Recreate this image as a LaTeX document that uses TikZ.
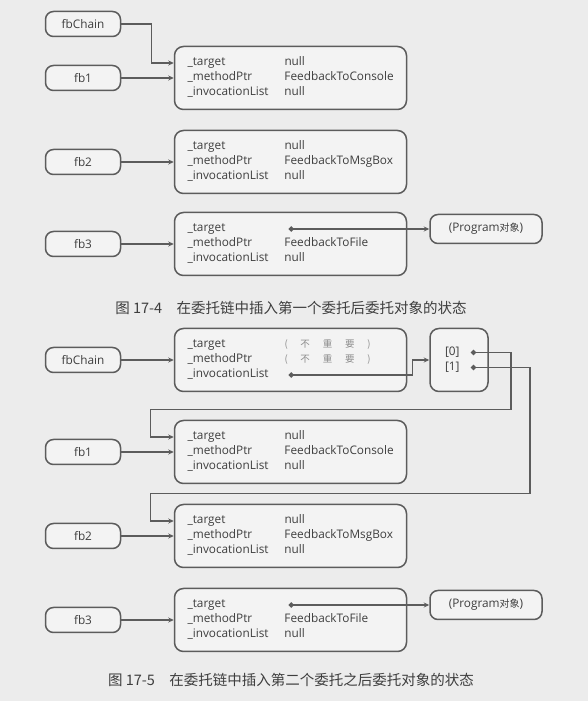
\documentclass[tikz,border=0pt]{standalone}
\usepackage{fontspec}
\setmainfont{Open Sans}
\newfontfamily\cjk{Noto Sans CJK SC}
\usepackage{xcolor}
\usetikzlibrary{arrows.meta, positioning}
\definecolor{linegray}{RGB}{92,92,92}
\definecolor{textgray}{RGB}{62,62,62}
\definecolor{boxgray}{RGB}{243,243,243}
\definecolor{pagegray}{RGB}{236,236,236}
\definecolor{faintgray}{RGB}{140,140,140}
\tikzstyle{var_style} = [rectangle, rounded corners=8pt, draw=linegray, line width=1.5pt, fill=boxgray, text=textgray, minimum width=75pt, minimum height=25pt, font=\fontsize{11.8}{15}\selectfont]
\tikzstyle{obj_style} = [var_style, rounded corners=9pt, minimum width=232pt, minimum height=63pt, text width=206pt, inner xsep=13pt, align=left]
\tikzstyle{arr_style} = [var_style, rounded corners=9pt, minimum width=58pt, minimum height=63pt, text width=28pt, inner xsep=15pt, align=left]
\tikzstyle{arrow_style} = [line width=1.4pt, draw=linegray, -{Stealth[length=5.5pt, width=5pt]}]
\tikzstyle{ptr_style} = [line width=1.4pt, draw=linegray, {Circle[length=5pt]}-{Stealth[length=5.5pt, width=5pt]}]
\newcommand{\objfields}[3]{\begin{tabular}{@{}p{97pt}@{}l@{}}\_target & #1\\ \_methodPtr & #2\\ \_invocationList & #3\end{tabular}}
\newcommand{\unimp}{{\color{faintgray}\cjk\fontsize{9.5}{15}\selectfont\makebox[86pt]{(\hfill 不\hfill 重\hfill 要\hfill )}}}

\begin{document}
\begin{tikzpicture}[x=1pt, y=1pt]
	  \fill[pagegray] (0,0) rectangle (588,701);
	  \useasboundingbox (0,0) rectangle (588,701);

	  % 图 17-4
	  \node[var_style] (chainA) at (83,677) {fbChain};
	  \node[var_style] (fb1A) at (83,623) {fb1};
	  \node[obj_style, right=52.5pt of fb1A] (objA1) {\objfields{null}{FeedbackToConsole}{null}};
	  \draw[arrow_style] (chainA.east) -- ++(30,0) |- ([yshift=15pt]objA1.west);
	  \draw[arrow_style] (fb1A.east) -- (objA1.west);

	  \node[var_style] (fb2A) at (83,539) {fb2};
	  \node[obj_style, right=52.5pt of fb2A] (objA2) {\objfields{null}{FeedbackToMsgBox}{null}};
	  \draw[arrow_style] (fb2A.east) -- (objA2.west);

	  \node[var_style] (fb3A) at (83,457) {fb3};
	  \node[obj_style, right=52.5pt of fb3A] (objA3) {\objfields{}{FeedbackToFile}{null}};
	  \node[var_style, minimum width=112pt, minimum height=29pt, right=22pt of objA3, yshift=15pt] (progA) {(Program{\cjk\fontsize{10}{15}\selectfont 对象})};
	  \draw[arrow_style] (fb3A.east) -- (objA3.west);
	  \coordinate (tgtA3) at ([xshift=115pt, yshift=15pt]objA3.west);
	  \draw[ptr_style] (tgtA3) -- (progA.west);

	  \node[text=textgray, font=\cjk\fontsize{14.5}{16}\selectfont] (capA) at (291,393) {图 17-4\quad 在委托链中插入第一个委托后委托对象的状态};

	  % 图 17-5
	  \node[var_style] (chainB) at (83,341) {fbChain};
	  \node[obj_style, right=52.5pt of chainB] (objB0) {\objfields{\unimp}{\unimp}{}};
	  \node[arr_style, right=22pt of objB0] (arr) {[0]\\{[1]}};
	  \draw[arrow_style] (chainB.east) -- (objB0.west);
	  \coordinate (invB0) at ([xshift=115pt, yshift=-15pt]objB0.west);
	  \draw[ptr_style] (invB0) -- ++(124,0) |- (arr.west);
	  \coordinate (slot0) at ([xshift=12pt, yshift=7.5pt]arr.center);
	  \coordinate (slot1) at ([xshift=12pt, yshift=-7.5pt]arr.center);

	  \node[var_style] (fb1B) at (83,249) {fb1};
	  \node[obj_style, right=52.5pt of fb1B] (objB1) {\objfields{null}{FeedbackToConsole}{null}};
	  \draw[arrow_style] (fb1B.east) -- (objB1.west);
	  \draw[ptr_style] (slot0) -- ++(40,0) |- ([xshift=-23pt, yshift=10pt]objB1.north west) |- ([yshift=15pt]objB1.west);

	  \node[var_style] (fb2B) at (83,165) {fb2};
	  \node[obj_style, right=52.5pt of fb2B] (objB2) {\objfields{null}{FeedbackToMsgBox}{null}};
	  \draw[arrow_style] (fb2B.east) -- (objB2.west);
	  \draw[ptr_style] (slot1) -- ++(59,0) |- ([xshift=-23pt, yshift=10pt]objB2.north west) |- ([yshift=15pt]objB2.west);

	  \node[var_style] (fb3B) at (83,81) {fb3};
	  \node[obj_style, right=52.5pt of fb3B] (objB3) {\objfields{}{FeedbackToFile}{null}};
	  \node[var_style, minimum width=112pt, minimum height=29pt, right=22pt of objB3, yshift=15pt] (progB) {(Program{\cjk\fontsize{10}{15}\selectfont 对象})};
	  \draw[arrow_style] (fb3B.east) -- (objB3.west);
	  \coordinate (tgtB3) at ([xshift=115pt, yshift=15pt]objB3.west);
	  \draw[ptr_style] (tgtB3) -- (progB.west);

	  \node[text=textgray, font=\cjk\fontsize{14.5}{16}\selectfont] (capB) at (291,21) {图 17-5\quad 在委托链中插入第二个委托之后委托对象的状态};

\end{tikzpicture}
\end{document}
